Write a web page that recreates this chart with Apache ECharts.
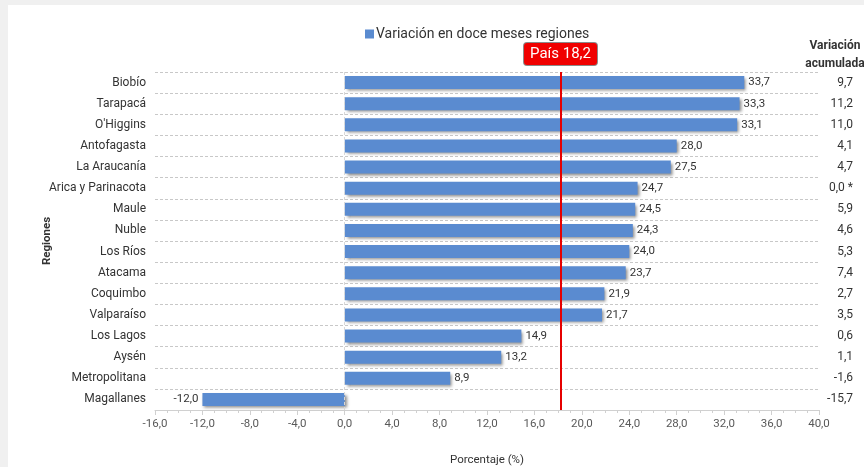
<!DOCTYPE html>
<html>
<head>
<meta charset="utf-8">
<script src="https://cdn.jsdelivr.net/npm/echarts@6/dist/echarts.min.js"></script>
<style>
  html, body { margin: 0; padding: 0; background: #f0f0f0; }
  #chart { position: absolute; left: 8px; top: 5px; width: 856px; height: 462px; background: #fff; }
</style>
</head>
<body>
<div id="chart"></div>
<script>
// regiones, de arriba hacia abajo
var regiones = ['Biobío', 'Tarapacá', "O'Higgins", 'Antofagasta', 'La Araucanía', 'Arica y Parinacota',
  'Maule', 'Nuble', 'Los Ríos', 'Atacama', 'Coquimbo', 'Valparaíso', 'Los Lagos', 'Aysén',
  'Metropolitana', 'Magallanes'];
// variación en doce meses (%)
var doceMeses = [33.7, 33.3, 33.1, 28.0, 27.5, 24.7, 24.5, 24.3, 24.0, 23.7, 21.9, 21.7, 14.9, 13.2, 8.9, -12.0];
// variación acumulada (texto de la columna derecha)
var acumulada = ['9,7', '11,2', '11,0', '4,1', '4,7', '0,0 *', '5,9', '4,6', '5,3', '7,4', '2,7', '3,5',
  '0,6', '1,1', '-1,6', '-15,7'];
var pais = 18.2;

var fuente = "Roboto, 'Liberation Sans', sans-serif";
function coma(v) { return v.toFixed(1).replace('.', ','); }

// las barras negativas llevan la etiqueta a la izquierda
var barras = doceMeses.map(function (v) {
  return v < 0 ? { value: v, label: { position: 'left' } } : v;
});

var myChart = echarts.init(document.getElementById('chart'));
myChart.setOption({
  animation: false,
  textStyle: { fontFamily: fuente },
  title: {
    text: 'Variación\nacumulada',
    left: 822, top: 27, textAlign: 'center',
    textStyle: { fontFamily: fuente, fontSize: 12, fontWeight: 'bold', color: '#333', lineHeight: 18 }
  },
  legend: {
    left: 352, top: 17,
    itemWidth: 9, itemHeight: 9, itemGap: 4,
    icon: 'rect',
    textStyle: { fontFamily: fuente, fontSize: 14, color: '#333', padding: [0, 0, 0, -3] },
    data: ['Variación en doce meses regiones']
  },
  grid: { left: 147, right: 45, top: 67, bottom: 57, containLabel: false, outerBoundsMode: 'none' },
  xAxis: {
    type: 'value', min: -16, max: 40, interval: 4,
    name: 'Porcentaje (%)', nameLocation: 'middle', nameGap: 44, nameMoveOverlap: false,
    nameTextStyle: { fontFamily: fuente, fontSize: 11.5, color: '#333' },
    axisLine: { show: true, lineStyle: { color: '#d0d0d0' } },
    axisTick: { show: true, length: 5, lineStyle: { color: '#d0d0d0' } },
    minorTick: { show: true, splitNumber: 4, length: 3, lineStyle: { color: '#d0d0d0' } },
    axisLabel: { fontFamily: fuente, fontSize: 11.5, color: '#595959', margin: 8, formatter: function (v) { return coma(v); } },
    splitLine: { show: false }
  },
  yAxis: [{
    type: 'category', inverse: true, data: regiones,
    name: 'Regiones', nameLocation: 'middle', nameGap: 102, nameMoveOverlap: false,
    nameTextStyle: { fontFamily: fuente, fontSize: 11.5, fontWeight: 'bold', color: '#333' },
    axisLine: { show: false, onZero: false },
    axisTick: { show: false },
    axisLabel: { fontFamily: fuente, fontSize: 12, color: '#333', margin: 9 },
    splitLine: { show: true, lineStyle: { color: '#c8c8c8', type: [3, 2] } }
  }, {
    type: 'category', inverse: true, data: acumulada, position: 'right',
    axisLine: { show: false, onZero: false },
    axisTick: { show: false },
    axisLabel: { fontFamily: fuente, fontSize: 12, color: '#333', margin: 34, align: 'right' },
    splitLine: { show: false }
  }],
  series: [{
    name: 'Variación en doce meses regiones',
    type: 'bar',
    data: barras,
    barWidth: 13,
    itemStyle: {
      color: '#5a8bd0',
      shadowColor: 'rgba(0,0,0,0.45)', shadowBlur: 3, shadowOffsetX: 2, shadowOffsetY: 2
    },
    label: {
      show: true, position: 'right', distance: 4,
      fontFamily: fuente, fontSize: 11.5, color: '#333',
      formatter: function (p) { return coma(p.value); }
    },
    markLine: {
      silent: true, symbol: 'none',
      data: [
        {
          xAxis: 0,
          lineStyle: { color: '#d8d8d8', type: [3, 2], width: 1 },
          label: { show: false }
        },
        {
          xAxis: pais,
          lineStyle: { color: '#e60000', type: 'solid', width: 2 },
          label: {
            show: true, position: 'start', distance: 7,
            formatter: 'País ' + coma(pais),
            fontFamily: fuente, fontSize: 15, color: '#fff',
            backgroundColor: '#f00000', borderColor: '#8a8a8a', borderWidth: 1, borderRadius: 3,
            padding: [4, 6, 3, 6]
          }
        }
      ]
    }
  }]
});
</script>
</body>
</html>
